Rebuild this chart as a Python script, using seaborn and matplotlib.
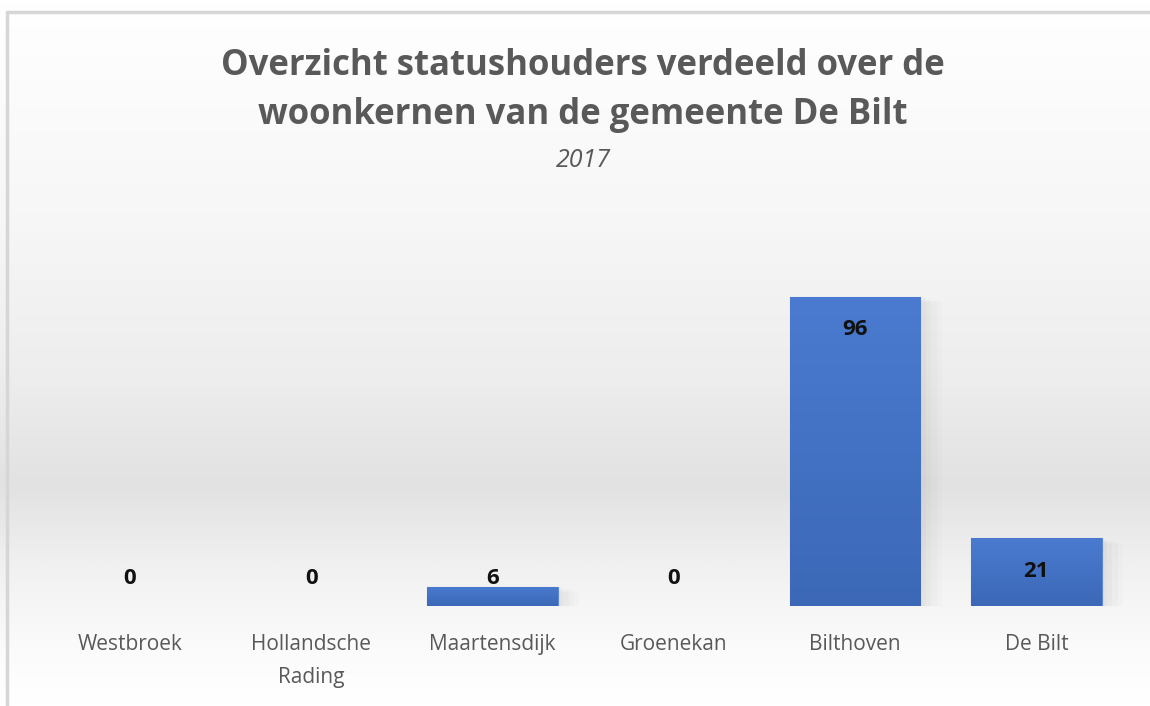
import numpy as np
import matplotlib.pyplot as plt
import matplotlib.colors as mcolors
import seaborn as sns

# Data
woonkernen = ['Westbroek', 'Hollandsche\nRading', 'Maartensdijk', 'Groenekan', 'Bilthoven', 'De Bilt']
statushouders = [0, 0, 6, 0, 96, 21]

title = 'Overzicht statushouders verdeeld over de\nwoonkernen van de gemeente De Bilt'
subtitle = '2017'

sns.set_theme(style='white')
plt.rcParams['font.family'] = ['Open Sans', 'DejaVu Sans']

fig = plt.figure(figsize=(11.5, 7.06), dpi=100)

# Background gradient (white -> light grey band -> white), like the Excel style
bg = fig.add_axes([0, 0, 1, 1], zorder=0)
bg_cmap = mcolors.LinearSegmentedColormap.from_list(
    'bg', [(0.0, '#ffffff'), (0.30, '#f7f7f7'), (0.52, '#eeeeee'),
           (0.69, '#e2e2e2'), (0.80, '#f0f0f0'), (0.92, '#fbfbfb'), (1.0, '#ffffff')])
grad = np.linspace(0, 1, 400).reshape(-1, 1)
bg.imshow(grad, aspect='auto', cmap=bg_cmap, extent=[0, 1, 0, 1], origin='upper')
bg.set_xlim(0, 1)
bg.set_ylim(0, 1)
bg.axis('off')
# chart border (top and left edges visible)
bg.plot([0.006, 1.0], [1 - 12 / 706, 1 - 12 / 706], color='#d6d6d6', lw=2.5)
bg.plot([0.006, 0.006], [0, 1 - 12 / 706], color='#d6d6d6', lw=2.5)

ax = fig.add_axes([0.034, 0.1416, 0.946, 0.547], zorder=2)
ax.patch.set_alpha(0)

sns.barplot(x=woonkernen, y=statushouders, color='#4472c4', width=0.72,
            saturation=1, ax=ax, zorder=3, edgecolor='#5b86d4', linewidth=0.8)
bars = list(ax.patches)

# soft shadow behind the bars
x = np.arange(len(woonkernen))
for k, a in enumerate([0.03, 0.025, 0.02, 0.015]):
    ax.bar(x + 0.03 + k * 0.03, statushouders, width=0.72, bottom=-0.4 - k * 0.4,
           color='#444444', alpha=a, zorder=1, linewidth=0)

# vertical gradient on the bars
bar_cmap = mcolors.LinearSegmentedColormap.from_list('bar', ['#4a7bd0', '#3c68b7'])
for patch in bars:
    h = patch.get_height()
    if h <= 0:
        patch.set_linewidth(0)
        continue
    x0 = patch.get_x()
    w = patch.get_width()
    im = ax.imshow(np.linspace(0, 1, 100).reshape(-1, 1), cmap=bar_cmap, aspect='auto',
                   extent=[x0, x0 + w, 0, h], origin='upper', zorder=3.5)
    im.set_clip_path(patch)

# data labels: inside end, pushed up to the base for small bars
for i, v in enumerate(statushouders):
    ax.text(i, max(v - 10.2, 8.7), str(v), ha='center', va='center',
            fontsize=16, fontweight='bold', color='#111111', zorder=5)

ax.set_xlim(-0.5, len(woonkernen) - 0.5)
ax.set_ylim(0, 120)
ax.set_yticks([])
sns.despine(ax=ax, left=True, bottom=True)
ax.tick_params(axis='x', length=0, pad=20, labelsize=15, labelcolor='#595959')
for lbl in ax.get_xticklabels():
    lbl.set_linespacing(1.75)
    lbl.set_va('top')

fig.text(0.507, 0.872, title, ha='center', va='center', fontsize=25,
         fontweight='bold', color='#595959', linespacing=1.5)
fig.text(0.507, 0.773, subtitle, ha='center', va='center', fontsize=18,
         style='italic', color='#595959')

fig.savefig('out.png', dpi=100)
